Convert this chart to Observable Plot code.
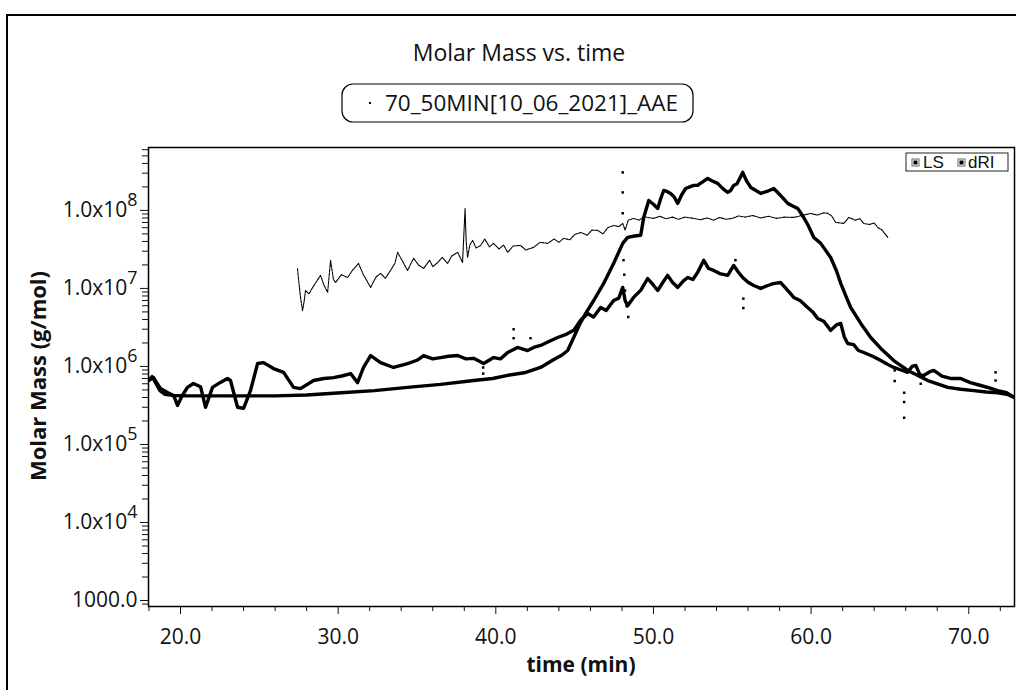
<!DOCTYPE html>
<html><head><meta charset="utf-8">
<script src="https://cdn.jsdelivr.net/npm/d3@7"></script>
<script src="https://cdn.jsdelivr.net/npm/@observablehq/plot@0.6"></script>
<style>
body{margin:0;background:#fff;}
#chart{width:1016px;height:690px;overflow:hidden;}
</style></head><body><div id="chart"></div>
<script>
// ---- data ----
const lsTime = [17.97,18.2,18.4,18.7,19.0,19.5,20.5,22.0,24.0,26.0,28.0,30.2,32.3,34.4,36.5,38.6,39.8,40.75,41.8,42.84,43.6,44.2,44.56,44.94,45.3,45.7,46.21,46.84,47.47,48.05,48.36,48.8,49.19,49.38,49.7,50.0,50.27,50.45,50.65,50.85,51.09,51.3,51.54,51.8,52.04,52.3,52.55,52.8,53.1,53.44,53.7,54.07,54.4,54.71,54.9,55.09,55.3,55.66,55.9,56.17,56.5,56.8,57.2,57.63,58.0,58.52,58.8,59.15,59.53,59.8,60.17,60.61,61.24,61.6,61.88,62.2,62.51,63.15,63.78,64.42,65.24,66.13,66.8,67.4,68.67,69.5,70.32,71.1,71.84,72.4,72.9];
const lsMass = [6.6e5,7.4e5,6.3e5,4.9e5,4.4e5,4.25e5,4.2e5,4.2e5,4.2e5,4.2e5,4.3e5,4.6e5,4.9e5,5.4e5,5.9e5,6.6e5,7.0e5,7.7e5,8.3e5,9.7e5,1.2e6,1.4e6,1.6e6,2.35e6,3.4e6,4.8e6,7.0e6,1.16e7,2.09e7,3.78e7,4.5e7,4.7e7,4.8e7,8.1e7,1.34e8,1.2e8,1.06e8,1.4e8,1.8e8,1.75e8,1.65e8,1.5e8,1.23e8,1.6e8,1.91e8,2.0e8,2.09e8,2.1e8,2.3e8,2.57e8,2.4e8,2.22e8,1.9e8,1.7e8,1.8e8,2.09e8,2.2e8,3.07e8,2.4e8,1.97e8,1.8e8,1.65e8,1.75e8,1.91e8,1.6e8,1.23e8,1.15e8,1.06e8,8.1e7,6.5e7,4.5e7,3.78e7,2.49e7,1.7e7,1.16e7,8.0e6,5.7e6,3.56e6,2.35e6,1.7e6,1.19e6,8.9e5,7.6e5,6.6e5,5.4e5,5.1e5,4.9e5,4.7e5,4.6e5,4.4e5,4.0e5];

const driTime = [17.97,18.29,18.73,19.2,19.56,19.81,20.1,20.44,20.82,21.27,21.59,22.03,22.5,22.98,23.17,23.62,24.0,24.44,24.89,25.27,25.9,26.54,27.17,27.61,28.44,29.1,29.71,30.3,30.79,31.23,31.61,32.06,32.69,33.52,34.4,35.0,35.42,36.0,36.5,37.0,37.58,38.1,38.59,39.23,39.86,40.3,40.75,41.38,42.02,42.4,42.84,43.4,43.92,44.5,44.94,45.38,45.82,46.2,46.65,47.0,47.47,47.8,48.05,48.2,48.36,48.74,49.2,49.63,50.0,50.27,50.6,50.9,51.2,51.54,51.9,52.17,52.5,52.8,53.19,53.5,53.82,54.2,54.71,55.09,55.4,55.66,56.0,56.36,56.8,57.25,57.6,58.07,58.5,58.9,59.3,59.78,60.1,60.42,60.8,61.24,61.6,61.88,62.1,62.32,62.7,63.0,63.34,63.9,64.42,64.9,65.24,65.7,66.13,66.4,66.64,66.9,67.14,67.5,67.78,68.3,68.9,69.49,70.1,70.76,71.3,71.84,72.4,72.9];
const driMass = [6.6e5,7.2e5,5.2e5,4.6e5,4.25e5,3.16e5,4.2e5,5.4e5,6.05e5,5.5e5,3.0e5,5.4e5,6.2e5,7.0e5,6.6e5,3.0e5,2.9e5,4.9e5,1.09e6,1.12e6,9.4e5,8.4e5,5.4e5,5.2e5,6.6e5,7.0e5,7.2e5,7.6e5,8.1e5,6.2e5,9.7e5,1.38e6,1.12e6,9.7e5,1.09e6,1.2e6,1.38e6,1.25e6,1.3e6,1.35e6,1.38e6,1.25e6,1.27e6,1.09e6,1.3e6,1.25e6,1.51e6,1.75e6,1.6e6,1.75e6,1.86e6,2.1e6,2.35e6,2.6e6,2.9e6,3.9e6,4.78e6,4.3e6,5.7e6,5.2e6,7.0e6,7.5e6,1.03e7,7.0e6,6.0e6,7.67e6,9.5e6,1.34e7,1.1e7,9.4e6,1.2e7,1.47e7,1.2e7,1.03e7,1.25e7,1.38e7,1.3e7,1.6e7,2.29e7,1.8e7,1.7e7,1.55e7,1.47e7,1.97e7,1.6e7,1.38e7,1.2e7,1.09e7,1.0e7,1.09e7,1.15e7,1.19e7,9.5e6,7.67e6,7.0e6,5.7e6,5.0e6,4.12e6,3.8e6,2.9e6,3.4e6,3.56e6,2.4e6,1.97e6,1.9e6,1.6e6,1.51e6,1.35e6,1.19e6,1.05e6,9.7e5,9.0e5,8.4e5,1.0e6,1.03e6,7.8e5,7.67e5,8.5e5,8.9e5,7.5e5,7.0e5,7.0e5,6.2e5,5.7e5,5.3e5,4.9e5,4.6e5,4.0e5];

const mmTime = [27.42,27.6,27.74,27.85,27.93,28.15,28.38,28.6,28.88,29.1,29.33,29.52,29.7,29.84,30.2,30.6,30.9,31.29,31.6,32.06,32.4,32.69,33.0,33.32,33.6,33.77,34.1,34.4,34.78,35.1,35.42,35.8,36.0,36.31,36.6,36.94,37.2,37.58,37.89,38.05,38.12,38.21,38.35,38.53,38.75,39.04,39.3,39.6,39.86,40.2,40.5,40.75,41.1,41.57,41.9,42.4,42.8,43.29,43.7,44.0,44.3,44.7,45.0,45.38,45.8,46.1,46.46,46.8,47.1,47.47,47.8,48.05,48.2,48.4,48.74,49.1,49.4,49.63,50.0,50.4,50.8,51.2,51.6,52.0,52.55,53.0,53.4,53.8,54.2,54.6,55.0,55.4,55.8,56.3,56.8,57.3,57.8,58.3,58.9,59.4,59.97,60.4,60.8,61.05,61.3,61.56,62.07,62.39,62.8,63.1,63.34,63.7,64.0,64.23,64.5,64.86];
const mmMass = [1.8e7,8e6,5.2e6,7e6,9.4e6,8.5e6,1.03e7,1.2e7,1.47e7,1.1e7,8.9e6,2.29e7,1.3e7,1.19e7,1.5e7,1.38e7,1.7e7,2.09e7,1.5e7,1.03e7,1.4e7,1.56e7,1.35e7,1.7e7,2.1e7,2.9e7,2.2e7,1.7e7,2.43e7,2.0e7,1.8e7,2.3e7,1.9e7,2.15e7,2.5e7,2.09e7,2.6e7,2.9e7,2.15e7,1.06e8,4e7,2.49e7,3.6e7,4.12e7,3.3e7,3.56e7,4.3e7,3.4e7,3.78e7,3.2e7,3.6e7,2.9e7,3.5e7,3.56e7,3.1e7,3.36e7,3.9e7,3.78e7,4.3e7,3.9e7,4.38e7,4.2e7,4.9e7,5.22e7,4.8e7,5.6e7,5.54e7,5.0e7,6.0e7,6.42e7,6.2e7,6.81e7,5.6e7,7.5e7,7.89e7,7.5e7,8.3e7,8.13e7,7.9e7,8.4e7,7.8e7,8.2e7,7.7e7,8.2e7,7.89e7,7.6e7,8.0e7,7.5e7,8.1e7,7.7e7,7.9e7,8.5e7,8.2e7,8.6e7,8.0e7,8.4e7,7.9e7,8.2e7,8.13e7,8.6e7,9.15e7,8.7e7,9.3e7,9.15e7,8.5e7,7.01e7,6.81e7,8.13e7,7.5e7,7.8e7,6.81e7,6.6e7,6.9e7,6.05e7,5.6e7,4.51e7];

const spikeTime = [48.05,48.05,48.05,48.1,48.15,48.2,48.3,48.4,41.13,41.13,42.2,39.2,39.2,55.2,55.7,55.7,65.3,65.3,65.9,65.9,65.9,66.95,71.7,71.7];
const spikeMass = [3.07e8,1.7e8,9.2e7,2.3e7,1.5e7,9.4e6,5.9e6,4.3e6,3.0e6,2.3e6,2.3e6,9.7e5,8.1e5,2.3e7,7.4e6,5.6e6,8.9e5,6.5e5,4.6e5,3.5e5,2.2e5,6.0e5,8.4e5,6.6e5];

// ---- axes / text ----
const xMajorTicks = [20,30,40,50,60,70];
const xMinorTicks = [18,22,24,26,28,32,34,36,38,42,44,46,48,52,54,56,58,62,64,66,68,72];
const yMajorTicks = [1e3,1e4,1e5,1e6,1e7,1e8];
const yMinorMultipliers = [2,3,4,5,6,7,8,9];
const titleText = "Molar Mass vs. time";
const sampleName = "70_50MIN[10_06_2021]_AAE";
const seriesNames = ["LS","dRI"];
const xTitle = "time (min)";
const yTitle = "Molar Mass (g/mol)";

const yMinorTicks = [900];
for (const p of yMajorTicks) for (const k of yMinorMultipliers) if (k*p < 6.4e8) yMinorTicks.push(k*p);

const ls = lsTime.map((t,i)=>({t, m: lsMass[i]}));
const dri = driTime.map((t,i)=>({t, m: driMass[i]}));
const mm = mmTime.map((t,i)=>({t, m: mmMass[i]}));
const spikes = spikeTime.map((t,i)=>({t, m: spikeMass[i]}));

const FONT = "'Open Sans', 'Noto Sans', sans-serif";

const chart = Plot.plot({
  width: 1016, height: 690,
  marginTop: 147, marginLeft: 148, marginRight: 2, marginBottom: 84,
  style: {fontFamily: FONT, fontSize: "21px", color: "#111", background: "#fff", overflow: "visible"},
  x: {domain: [17.97, 72.9]},
  y: {type: "log", domain: [838, 6.4e8]},
  marks: [
    Plot.axisX({ticks: xMinorTicks, tickSize: 5, tickFormat: () => "", label: null}),
    Plot.axisX({ticks: xMajorTicks, tickSize: 8, tickPadding: 15, tickFormat: d => d.toFixed(1), label: null, fontSize: 21}),
    Plot.axisY({ticks: yMinorTicks, tickSize: 6, tickFormat: () => "", label: null}),
    Plot.axisY({ticks: yMajorTicks, tickSize: 8, tickPadding: 3, label: null, fontSize: 21,
      tickFormat: d => d === 1000 ? "1000.0" : "1.0x10^" + Math.round(Math.log10(d))}),
    Plot.line(mm, {x: "t", y: "m", stroke: "#000", strokeWidth: 1.1, strokeDasharray: "3,1", clip: true}),
    Plot.line(dri, {x: "t", y: "m", stroke: "#000", strokeWidth: 3.4, clip: true}),
    Plot.line(ls, {x: "t", y: "m", stroke: "#000", strokeWidth: 3.4, clip: true}),
    Plot.dot(spikes, {x: "t", y: "m", symbol: "square", r: 1.4, fill: "#000", stroke: null, clip: true}),
    Plot.frame({stroke: "#000", strokeWidth: 1.5})
  ]
});

document.getElementById("chart").appendChild(chart);
const svg = d3.select(chart);

// superscript exponents on y tick labels
svg.selectAll('g[aria-label="y-axis tick label"] text').each(function() {
  const s = this.textContent;
  if (s.includes("^")) {
    const [base, exp] = s.split("^");
    const el = d3.select(this);
    el.text(null);
    el.append("tspan").text(base);
    el.append("tspan").attr("dy", "-0.62em").attr("font-size", "0.85em").text(exp);
  }
});

// outer border (top and left only visible)
svg.append("path").attr("d", "M7,690V15H1016").attr("fill", "none").attr("stroke", "#000").attr("stroke-width", 2);

// title
svg.append("text").attr("x", 519).attr("y", 61).attr("text-anchor", "middle")
  .attr("font-family", FONT).attr("font-size", 23).attr("fill", "#111").text(titleText);

// sample legend
svg.append("rect").attr("x", 342).attr("y", 84).attr("width", 351).attr("height", 38).attr("rx", 11)
  .attr("fill", "none").attr("stroke", "#000").attr("stroke-width", 1.2);
svg.append("rect").attr("x", 369).attr("y", 102).attr("width", 2).attr("height", 2).attr("fill", "#000");
svg.append("text").attr("x", 385).attr("y", 111).attr("text-anchor", "start").attr("font-family", FONT).attr("font-size", 22.5)
  .attr("fill", "#111").text(sampleName);

// LS / dRI legend box
svg.append("rect").attr("x", 906).attr("y", 153).attr("width", 102).attr("height", 18)
  .attr("fill", "#fff").attr("stroke", "#222").attr("stroke-width", 1);
const lg = [{mx: 912, tx: 923, name: seriesNames[0]}, {mx: 958, tx: 968, name: seriesNames[1]}];
for (const d of lg) {
  svg.append("rect").attr("x", d.mx).attr("y", 159).attr("width", 7).attr("height", 7)
    .attr("fill", "#fff").attr("stroke", "#666").attr("stroke-width", 1);
  svg.append("rect").attr("x", d.mx + 1.5).attr("y", 160.5).attr("width", 4).attr("height", 4).attr("fill", "#000");
  svg.append("text").attr("x", d.tx).attr("y", 168).attr("text-anchor", "start")
    .attr("font-family", "'Liberation Sans', Arial, sans-serif")
    .attr("font-size", 17).attr("fill", "#111").text(d.name);
}

// axis titles
svg.append("text").attr("transform", "translate(46,376) rotate(-90)").attr("text-anchor", "middle")
  .attr("font-family", FONT).attr("font-weight", "bold").attr("font-size", 22).attr("fill", "#111").text(yTitle);
svg.append("text").attr("x", 581).attr("y", 672).attr("text-anchor", "middle")
  .attr("font-family", FONT).attr("font-weight", "bold").attr("font-size", 21).attr("fill", "#111").text(xTitle);
</script>
</body></html>
